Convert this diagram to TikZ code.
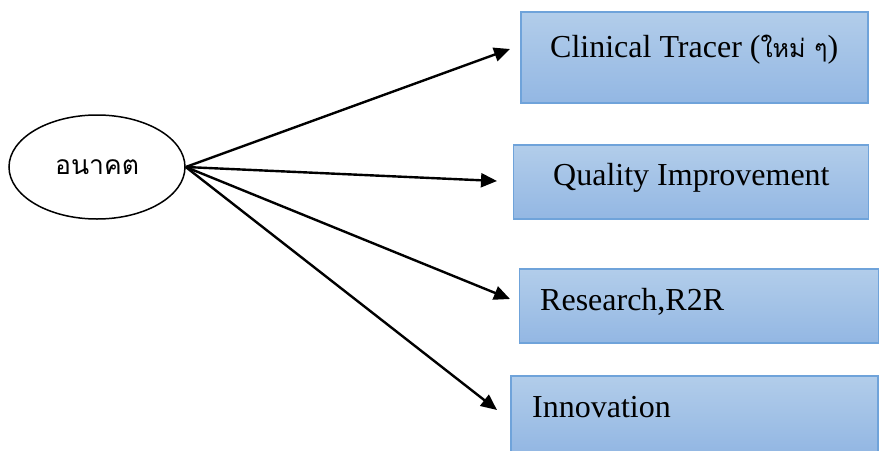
\documentclass[tikz,border=0pt]{standalone}
\usepackage{fontspec}
\setmainfont{Liberation Serif}
\newfontfamily\thaifont[Script=Thai]{Loma}
\usetikzlibrary{arrows.meta,shapes.geometric}
\definecolor{boxtop}{HTML}{B2CDEA}
\definecolor{boxbot}{HTML}{93B7E3}
\definecolor{boxline}{HTML}{6FA3DA}
\tikzset{
  boxnode/.style={draw=boxline,line width=1.2pt,top color=boxtop,bottom color=boxbot,rectangle,inner sep=0pt},
  lbl/.style={font=\fontsize{32}{32}\selectfont,inner sep=0pt,anchor=base west},
  conn/.style={line width=2.4pt,-{Triangle[length=16pt,width=14pt]}},
}
\begin{document}
\begin{tikzpicture}[x=1pt,y=-1pt]
\useasboundingbox (0,0) rectangle (883,450);
\node[draw,ellipse,line width=1.5pt,minimum width=176pt,minimum height=104pt,inner sep=0pt,font=\thaifont\fontsize{26.5}{26.5}\selectfont] (f) at (97,167) {อนาคต};
\node[boxnode,minimum width=347pt,minimum height=91pt] (b1) at (694.5,57.5) {};
\node[boxnode,minimum width=355pt,minimum height=74pt] (b2) at (691,182) {};
\node[boxnode,minimum width=359pt,minimum height=74pt] (b3) at (699,306) {};
\node[boxnode,minimum width=367pt,minimum height=76pt] (b4) at (694.5,414) {};
\node[lbl] (t1) at (550,57) {Clinical Tracer ({\thaifont\fontsize{25}{25}\selectfont ใหม่ ๆ})};
\node[lbl] (t2) at (553,185) {Quality Improvement};
\node[lbl] (t3) at (540,310) {Research,R2R};
\node[lbl] (t4) at (532,417) {Innovation};
\coordinate (e1) at (510,49);
\coordinate (e2) at (497,181);
\coordinate (e3) at (510,299);
\coordinate (e4) at (497,410);
\draw[conn] (f.east) -- (e1);
\draw[conn] (f.east) -- (e2);
\draw[conn] (f.east) -- (e3);
\draw[conn] (f.east) -- (e4);
\end{tikzpicture}
\end{document}
